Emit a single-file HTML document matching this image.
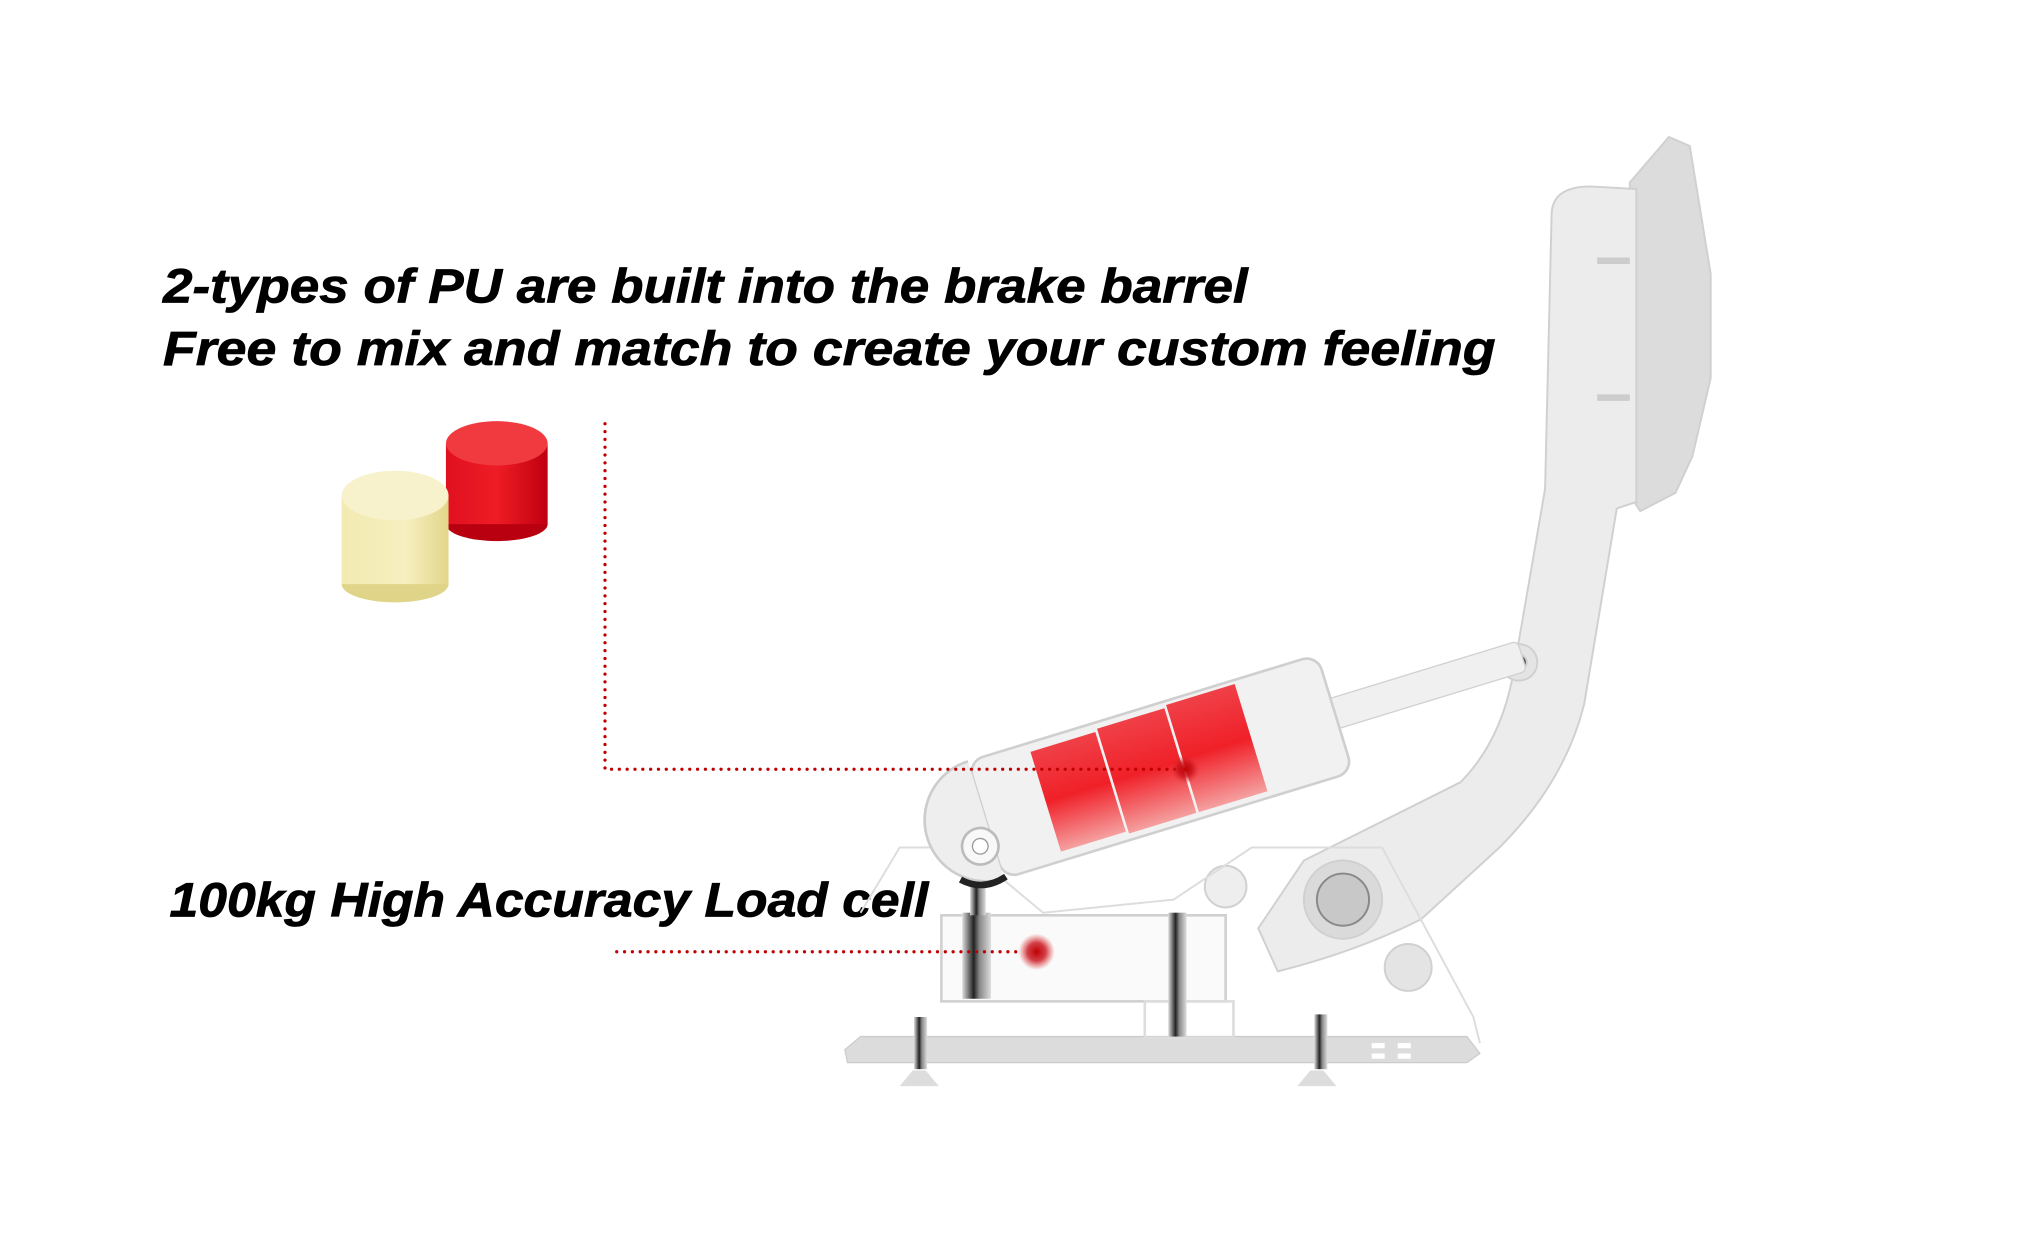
<!DOCTYPE html>
<html><head><meta charset="utf-8"><style>
html,body{margin:0;padding:0;background:#fff;}
svg{display:block;}
</style></head><body>
<svg width="2021" height="1250" viewBox="0 0 1550 958.7" xmlns="http://www.w3.org/2000/svg">
<defs>
<linearGradient id="gy" x1="0" x2="1"><stop offset="0" stop-color="#f2eab0"/><stop offset="0.6" stop-color="#f6efc0"/><stop offset="1" stop-color="#e2d68a"/></linearGradient>
<linearGradient id="gr" x1="0" x2="1"><stop offset="0" stop-color="#e01020"/><stop offset="0.5" stop-color="#ee1c24"/><stop offset="1" stop-color="#c00010"/></linearGradient>
<linearGradient id="rb" x1="0" y1="0" x2="0" y2="1"><stop offset="0" stop-color="#f04048"/><stop offset="0.5" stop-color="#f02028"/><stop offset="1" stop-color="#f5a0a0"/></linearGradient>
<linearGradient id="bolt" x1="0" x2="1"><stop offset="0" stop-color="#ddd"/><stop offset="0.4" stop-color="#222"/><stop offset="0.6" stop-color="#888"/><stop offset="1" stop-color="#ddd"/></linearGradient>
<radialGradient id="dot"><stop offset="0" stop-color="#c00000"/><stop offset="0.5" stop-color="#c8101a" stop-opacity="0.8"/><stop offset="1" stop-color="#e03030" stop-opacity="0"/></radialGradient>
</defs>

<g font-family="'Liberation Sans',sans-serif" font-weight="bold" font-style="italic" fill="#000" stroke="#000" stroke-width="0.6">
<text x="125" y="232" font-size="37" textLength="832" lengthAdjust="spacingAndGlyphs">2-types of PU are built into the brake barrel</text>
<text x="125" y="280" font-size="37" textLength="1022" lengthAdjust="spacingAndGlyphs">Free to mix and match to create your custom feeling</text>
<text x="130" y="703" font-size="37" textLength="582" lengthAdjust="spacingAndGlyphs">100kg High Accuracy Load cell</text>
</g>

<g>
<ellipse cx="381" cy="402" rx="39" ry="13" fill="#b80010"/>
<rect x="342" y="340" width="78" height="62" fill="url(#gr)"/>
<ellipse cx="381" cy="340" rx="39" ry="17" fill="#f03a40"/>
<ellipse cx="303" cy="448" rx="41" ry="14" fill="#e0d488"/>
<rect x="262" y="380" width="82" height="68" fill="url(#gy)"/>
<ellipse cx="303" cy="380" rx="41" ry="19" fill="#f8f2cc"/>
</g>

<g fill="#ececec" stroke="#d0d0d0" stroke-width="1.5">
<path d="M1250,140 L1280,105 L1296,112 L1312,210 L1312,290 L1298,350 L1285,378 L1258,392 L1250,380 Z" fill="#dcdcdc"/>
<path d="M1190,165 Q1190,143 1220,143 L1255,145 L1255,385 L1240,390 L1215,540 Q1200,600 1150,650 L1090,705 Q1040,730 980,745 L965,712 L1000,660 Q1060,630 1120,600 Q1150,570 1160,520 L1185,375 Z"/>
<path d="M1225,200 h25 M1225,305 h25" stroke="#ccc" stroke-width="5"/>
<circle cx="1165" cy="508" r="14" fill="#e4e4e4"/>
<circle cx="1165" cy="508" r="6" fill="#555"/>
<circle cx="1030" cy="690" r="30" fill="#dadada"/>
<circle cx="1030" cy="690" r="20" fill="#c8c8c8" stroke="#888"/>
<circle cx="1080" cy="742" r="18" fill="#e4e4e4"/>
<circle cx="940" cy="680" r="16" fill="#eee"/>
</g>

<path d="M660,700 L690,650 L740,650 L800,700 L900,690 L960,650 L1060,650 L1130,780 L1135,800" fill="none" stroke="#ddd" stroke-width="1.5"/>

<path d="M660,795 L1125,795 L1135,808 L1125,815 L650,815 L648,805 Z" fill="#dcdcdc" stroke="#ccc"/>
<g fill="#fff"><rect x="1052" y="800" width="10" height="4"/><rect x="1072" y="800" width="10" height="4"/><rect x="1052" y="808" width="10" height="4"/><rect x="1072" y="808" width="10" height="4"/></g>
<rect x="722" y="702" width="218" height="66" fill="#fafafa" stroke="#d0d0d0" stroke-width="2"/>
<rect x="878" y="768" width="68" height="28" fill="none" stroke="#ddd" stroke-width="2"/>
<rect x="738" y="700" width="22" height="66" fill="url(#bolt)"/>
<rect x="896" y="700" width="14" height="95" fill="url(#bolt)"/>
<rect x="744" y="676" width="12" height="26" fill="url(#bolt)"/>
<g fill="url(#bolt)"><rect x="701" y="780" width="10" height="40"/><rect x="1008" y="778" width="10" height="42"/></g>
<path d="M690,833 l10,-12 h10 l10,12 Z M995,833 l10,-12 h10 l10,12 Z" fill="#ddd"/>

<g transform="translate(890,588) rotate(-17)">
<rect x="120" y="-12" width="170" height="24" rx="4" fill="#f0f0f0" stroke="#d0d0d0"/>
<rect x="100" y="-28" width="20" height="56" fill="#555"/>
<rect x="-140" y="-47" width="280" height="94" rx="12" fill="#f1f1f1" stroke="#cfcfcf" stroke-width="2"/>
<path d="M-140,-47 A47,47 0 0 0 -140,47" fill="#eee" stroke="#ccc" stroke-width="2"/>
<rect x="-92" y="-40" width="52" height="80" fill="url(#rb)"/>
<rect x="-38" y="-42" width="54" height="84" fill="url(#rb)"/>
<rect x="18" y="-44" width="55" height="86" fill="url(#rb)"/>
<circle cx="-150" cy="18" r="14" fill="#f8f8f8" stroke="#bbb" stroke-width="2"/>
<circle cx="-150" cy="18" r="6" fill="#fff" stroke="#999"/>
<path d="M-172,38 Q-158,52 -138,46" fill="none" stroke="#222" stroke-width="5"/>
</g>

<g stroke="#c00000" stroke-width="2.5" stroke-dasharray="0 6" stroke-linecap="round" fill="none">
<path d="M464,325 L464,590 L905,590"/>
<path d="M473,730 L782,730"/>
</g>
<circle cx="909" cy="590" r="11" fill="url(#dot)"/>
<circle cx="795" cy="730" r="14" fill="url(#dot)"/>
</svg>
</body></html>
